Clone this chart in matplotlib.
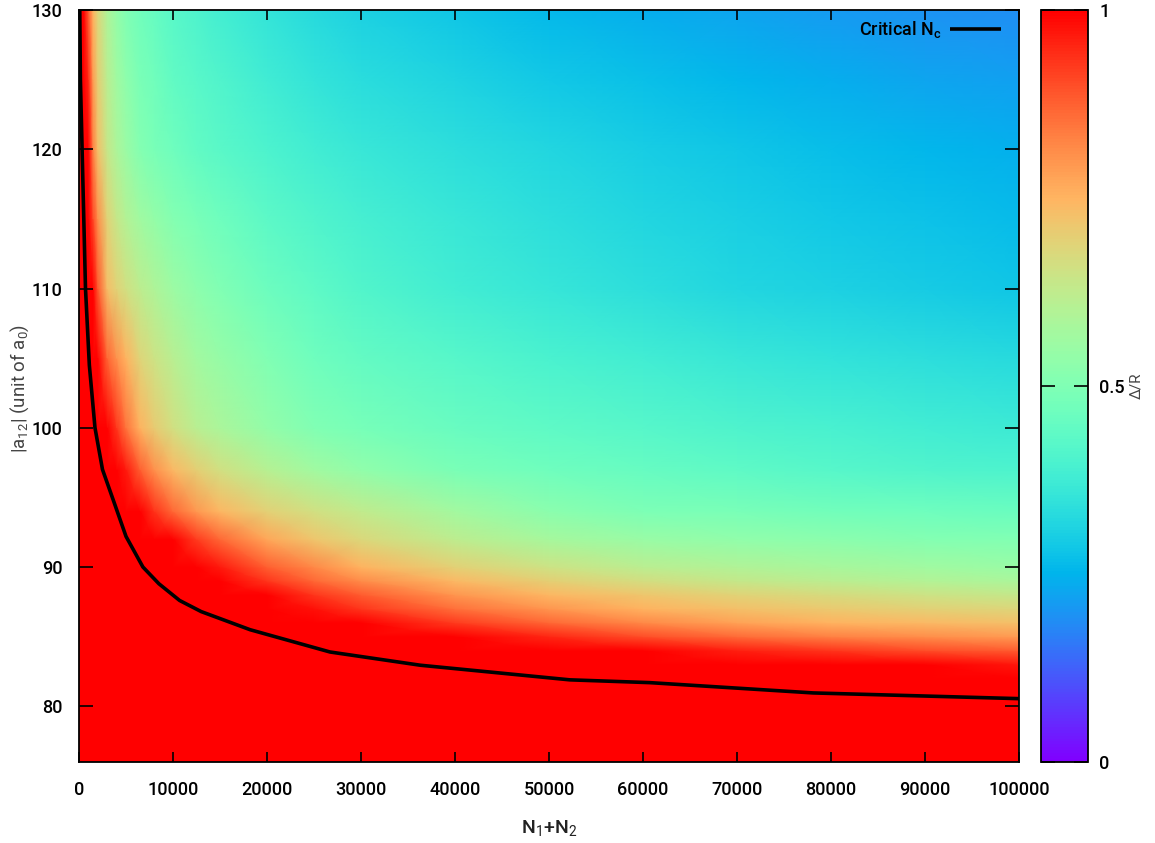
import numpy as np
import matplotlib
matplotlib.use("Agg")
import matplotlib.pyplot as plt

plt.rcParams['font.family'] = ['Roboto', 'DejaVu Sans']
plt.rcParams['mathtext.fontset'] = 'custom'
plt.rcParams['mathtext.rm'] = 'Roboto'
plt.rcParams['mathtext.it'] = 'Roboto:italic'

# ---- data ----
n_grid = [0, 500, 1000, 1500, 2000, 3000, 4000, 5000, 6500, 8000, 10000, 12500, 15000,
          20000, 25000, 30000, 40000, 50000, 60000, 70000, 80000, 90000, 100000]
a_grid = [76, 80, 82, 83, 84, 85, 86, 87, 88, 89, 90, 92, 94, 97, 100, 105, 110, 115,
          120, 125, 130]

ratio_a76 = [1.0] * 23
ratio_a80 = [1.0] * 23
ratio_a82 = [1.0] * 23
ratio_a83 = [1.0] * 22 + [0.97]
ratio_a84 = [1.0] * 19 + [0.96, 0.93, 0.90, 0.88]
ratio_a85 = [1.0] * 17 + [0.95, 0.90, 0.86, 0.83, 0.81, 0.79]
ratio_a86 = [1.0] * 16 + [0.925, 0.866, 0.82, 0.78, 0.75, 0.74, 0.73]
ratio_a87 = [1.0] * 14 + [0.98, 0.93, 0.855, 0.80, 0.75, 0.73, 0.71, 0.695, 0.68]
ratio_a88 = [1.0] * 14 + [0.93, 0.88, 0.80, 0.745, 0.715, 0.69, 0.67, 0.65, 0.635]
ratio_a89 = [1.0] * 13 + [0.93, 0.867, 0.816, 0.74, 0.698, 0.663, 0.635, 0.615, 0.60, 0.585]
ratio_a90 = [1.0] * 12 + [0.967, 0.877, 0.82, 0.75, 0.693, 0.65, 0.615, 0.595, 0.58, 0.565, 0.55]
ratio_a92 = [1.0] * 11 + [0.925, 0.864, 0.77, 0.715, 0.678, 0.62, 0.575, 0.55, 0.535, 0.52,
                          0.51, 0.50]
ratio_a94 = [1, 1, 1, 1, 1, 1, 1, 1, 1, 0.935, 0.865, 0.796, 0.745, 0.695, 0.657, 0.625,
             0.567, 0.52, 0.495, 0.485, 0.475, 0.467, 0.46]
ratio_a97 = [1, 1, 1, 1, 1, 1, 1, 0.965, 0.877, 0.808, 0.74, 0.697, 0.66, 0.606, 0.566,
             0.533, 0.49, 0.468, 0.45, 0.435, 0.42, 0.41, 0.40]
ratio_a100 = [1, 1, 1, 1, 1, 1, 0.93, 0.85, 0.75, 0.706, 0.659, 0.613, 0.584, 0.536, 0.50,
              0.483, 0.457, 0.437, 0.42, 0.405, 0.393, 0.38, 0.37]
ratio_a105 = [1, 1, 1, 1, 1, 0.87, 0.805, 0.75, 0.685, 0.65, 0.61, 0.57, 0.545, 0.50, 0.468,
              0.447, 0.42, 0.398, 0.38, 0.362, 0.35, 0.338, 0.327]
ratio_a110 = [1, 1, 1, 1, 0.89, 0.734, 0.69, 0.659, 0.62, 0.59, 0.558, 0.526, 0.50, 0.463,
              0.435, 0.412, 0.38, 0.356, 0.337, 0.32, 0.305, 0.295, 0.285]
ratio_a115 = [1, 1, 1, 0.91, 0.81, 0.69, 0.64, 0.605, 0.565, 0.54, 0.51, 0.485, 0.465,
              0.432, 0.407, 0.387, 0.36, 0.337, 0.32, 0.302, 0.288, 0.276, 0.265]
ratio_a120 = [1, 1, 1, 0.83, 0.728, 0.64, 0.589, 0.554, 0.51, 0.487, 0.466, 0.445, 0.427,
              0.40, 0.38, 0.363, 0.337, 0.317, 0.30, 0.283, 0.269, 0.256, 0.245]
ratio_a125 = [1, 1, 0.95, 0.79, 0.70, 0.615, 0.565, 0.53, 0.49, 0.47, 0.443, 0.424, 0.408,
              0.378, 0.355, 0.335, 0.31, 0.289, 0.27, 0.255, 0.239, 0.226, 0.217]
ratio_a130 = [1, 1, 0.88, 0.75, 0.68, 0.59, 0.54, 0.50, 0.47, 0.45, 0.425, 0.405, 0.385,
              0.352, 0.327, 0.307, 0.282, 0.26, 0.24, 0.225, 0.208, 0.197, 0.19]

crit_n = [80, 150, 330, 690, 1100, 1700, 2500, 3650, 5000, 6800, 8500, 10700, 13000,
          18200, 26700, 36300, 52200, 60700, 78100, 100000]
crit_a = [130, 125, 120, 110, 104.5, 100, 97, 94.8, 92.2, 90, 88.8, 87.6, 86.8,
          85.5, 83.9, 82.95, 81.9, 81.7, 80.96, 80.55]

xticks = [0, 10000, 20000, 30000, 40000, 50000, 60000, 70000, 80000, 90000, 100000]
yticks = [80, 90, 100, 110, 120, 130]
cticks = [0, 0.5, 1]
ctick_labels = ['0', '0.5', '1']

# ---- figure ----
W, H = 1155, 843
fig = plt.figure(figsize=(W / 100, H / 100), dpi=100)
ax = fig.add_axes([79 / W, 1 - 762 / H, 940 / W, 752 / H])

V = np.array([ratio_a76, ratio_a80, ratio_a82, ratio_a83, ratio_a84, ratio_a85, ratio_a86,
              ratio_a87, ratio_a88, ratio_a89, ratio_a90, ratio_a92, ratio_a94, ratio_a97,
              ratio_a100, ratio_a105, ratio_a110, ratio_a115, ratio_a120, ratio_a125,
              ratio_a130])
NN, AA = np.meshgrid(n_grid, a_grid)
pcm = ax.pcolormesh(NN, AA, V, shading='gouraud', cmap='rainbow', vmin=0, vmax=1,
                    rasterized=True)

ax.plot(crit_n, crit_a, color='black', lw=2.6, label=r'Critical N$_\mathregular{c}$',
        solid_capstyle='butt', solid_joinstyle='round')

ax.set_xlim(0, 100000)
ax.set_ylim(76, 130)
ax.set_xticks(xticks)
ax.set_xticklabels([str(t) for t in xticks])
ax.set_yticks(yticks)
ax.set_yticklabels([str(t) for t in yticks])
ax.tick_params(axis='x', direction='in', length=7, width=1.2, top=True, bottom=True,
               pad=14, labelsize=13)
ax.tick_params(axis='y', direction='in', length=10, width=1.2, left=True, right=True,
               pad=12, labelsize=13)
for lab in ax.get_xticklabels() + ax.get_yticklabels():
    lab.set_fontweight('medium')
for s in ax.spines.values():
    s.set_linewidth(1.3)

leg = ax.legend(loc='upper right', bbox_to_anchor=(0.9885, 0.997), frameon=False,
                markerfirst=False, prop={'size': 13, 'weight': 'medium'},
                handlelength=2.8, borderaxespad=0.0, handletextpad=0.5)

fig.text(549 / W, 1 - 828 / H, r'N$_1$+N$_2$', ha='center', va='center', fontsize=14,
         color='#222222', fontweight='medium')
fig.text(20 / W, 1 - 388 / H, r'|a$_{12}$| (unit of a$_0$)', ha='center', va='center',
         rotation=90, fontsize=13.5, color='#444444')

# colorbar
cax = fig.add_axes([1041 / W, 1 - 762 / H, 47 / W, 752 / H])
cb = fig.colorbar(pcm, cax=cax, ticks=cticks)
cb.ax.set_yticklabels(ctick_labels)
cb.ax.tick_params(direction='in', length=10, width=1.2, left=True, right=True,
                  labelsize=13, pad=8)
for lab in cb.ax.get_yticklabels():
    lab.set_fontweight('medium')
cb.outline.set_linewidth(1.3)
fig.text(1136 / W, 1 - 386 / H, 'Δ/R', rotation=90, ha='center', va='center',
         fontsize=11, color='#444444')

fig.savefig('out.png', dpi=100)
